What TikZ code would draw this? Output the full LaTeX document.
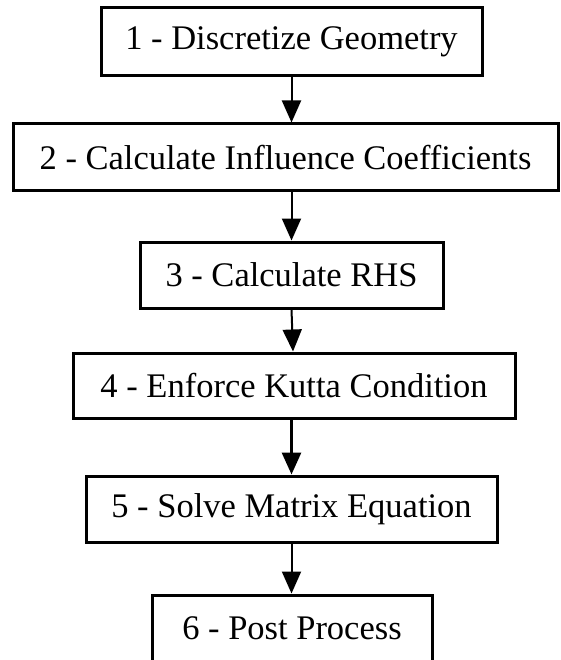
\documentclass[tikz,border=0pt]{standalone}
\usepackage{fontspec}
\setmainfont{Liberation Serif}
\usetikzlibrary{arrows.meta}
\begin{document}
\begin{tikzpicture}[x=1pt,y=-1pt,
  stepbox/.style={draw=black, line width=3pt, fill=white, inner sep=0pt,
    font=\fontsize{34.5}{40}\selectfont, align=center},
  flow/.style={line width=2pt, -{Triangle[length=22pt,width=19pt]}}]
\useasboundingbox (0,0) rectangle (560,660);
\clip (0,0) rectangle (560,660);
\node[stepbox, minimum width=381pt, minimum height=68pt] (b1) at (291.5,42) {1 - Discretize Geometry};
\node[stepbox, minimum width=545pt, minimum height=67pt] (b2) at (285.5,157.5) {2 - Calculate Influence Coefficients};
\node[stepbox, minimum width=303pt, minimum height=66pt] (b3) at (291.5,275) {3 - Calculate RHS};
\node[stepbox, minimum width=442pt, minimum height=65pt] (b4) at (294,385.5) {4 - Enforce Kutta Condition};
\node[stepbox, minimum width=411pt, minimum height=66pt] (b5) at (291.5,509) {5 - Solve Matrix Equation};
\node[stepbox, minimum width=280pt, minimum height=67pt] (b6) at (292,628.5) {6 - Post Process};
\draw[flow] (b1.south) -- (b1.south |- b2.north);
\draw[flow] (b2.south -| b1.south) -- (b1.south |- b3.north);
\draw[flow] (b3.south -| b1.south) -- ([xshift=1.5pt]b1.south |- b4.north);
\draw[flow, line width=3pt] (b4.south -| b1.south) -- (b1.south |- b5.north);
\draw[flow] (b5.south -| b1.south) -- (b1.south |- b6.north);
\end{tikzpicture}
\end{document}
